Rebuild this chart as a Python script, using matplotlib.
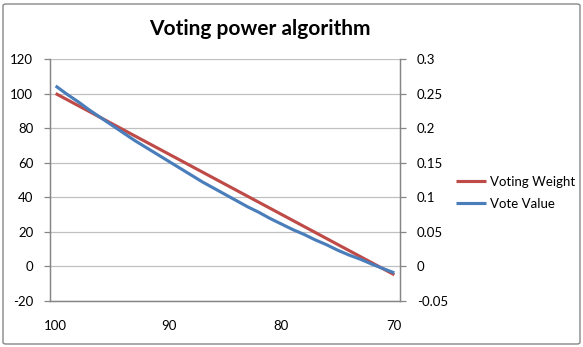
import matplotlib
matplotlib.use("Agg")
import matplotlib.pyplot as plt
from matplotlib.patches import FancyBboxPatch

# ---- data ----
categories = list(range(100, 69, -1))  # 100 .. 70
voting_weight = [100, 96.5, 93, 89.5, 86, 82.5, 79, 75.5, 72, 68.5, 65,
                 61.5, 58, 54.5, 51, 47.5, 44, 40.5, 37, 33.5, 30,
                 26.5, 23, 19.5, 16, 12.5, 9, 5.5, 2, -1.5, -5]
vote_value = [0.261, 0.249, 0.238, 0.226, 0.215, 0.204, 0.193, 0.182, 0.172, 0.162, 0.152,
              0.142, 0.132, 0.122, 0.113, 0.104, 0.095, 0.086, 0.078, 0.069, 0.061,
              0.053, 0.046, 0.038, 0.031, 0.023, 0.016, 0.010, 0.003, -0.0035, -0.0097]
left_ticks = [-20, 0, 20, 40, 60, 80, 100, 120]
right_ticks = [-0.05, 0, 0.05, 0.1, 0.15, 0.2, 0.25, 0.3]
right_tick_labels = ["-0.05", "0", "0.05", "0.1", "0.15", "0.2", "0.25", "0.3"]
x_tick_labels = ["100", "90", "80", "70"]
series_names = ["Voting Weight", "Vote Value"]
title = "Voting power algorithm"

RED = "#BE4B48"
BLUE = "#4A7EBB"
GRID = "#C0C0C0"
AXC = "#868686"
FONT = ["Lato", "DejaVu Sans"]
plt.rcParams['font.family'] = FONT

W, H = 583, 347
fig = plt.figure(figsize=(W / 100, H / 100), dpi=100)
ax = fig.add_axes([50 / W, 1 - 300.7 / H, 350 / W, (300.7 - 59) / H])
ax2 = ax.twinx()

pos = list(range(len(categories)))
l1, = ax.plot(pos, voting_weight, color=RED, lw=2.25, solid_capstyle='butt', zorder=3)
l2, = ax2.plot(pos, vote_value, color=BLUE, lw=2.25, solid_capstyle='butt', zorder=3)

ax.set_xlim(-0.5, len(categories) - 0.5)
ax.set_ylim(-20, 120)
ax2.set_ylim(-0.05, 0.3)
ax.set_yticks(left_ticks)
ax.set_yticklabels([str(t) for t in left_ticks])
ax2.set_yticks(right_ticks)
ax2.set_yticklabels(right_tick_labels)
xt = [categories.index(int(s)) for s in x_tick_labels]
ax.set_xticks(xt)
ax.set_xticklabels(x_tick_labels)

ax.grid(axis='y', color=GRID, lw=0.9)
ax.set_axisbelow(True)
for a in (ax, ax2):
    for s in ('top',):
        a.spines[s].set_visible(False)
    for s in ('left', 'right', 'bottom'):
        a.spines[s].set_color(AXC)
        a.spines[s].set_linewidth(0.9)
ax.tick_params(axis='y', direction='out', length=4, width=0.9, color=AXC,
               labelsize=9.5, pad=8, labelcolor='#000000')
ax2.tick_params(axis='y', direction='out', length=4, width=0.9, color=AXC,
                labelsize=9.5, pad=8, labelcolor='#000000')
ax.tick_params(axis='x', length=0, labelsize=9.5, pad=14, labelcolor='#000000')

fig.text(260 / W, 1 - 29 / H, title, ha='center', va='center',
         fontsize=15, fontweight='bold', color='#000000')

fig.legend([l1, l2], series_names, loc='center left',
           bbox_to_anchor=(456 / W, 1 - 193 / H), frameon=False,
           fontsize=9.5, handlelength=2.3, handletextpad=0.3,
           labelspacing=0.75, borderpad=0, borderaxespad=0)

border = FancyBboxPatch((3 / W, 3 / H), (W - 6) / W, (H - 7) / H,
                        boxstyle="round,pad=0,rounding_size=0.005",
                        transform=fig.transFigure, fill=False,
                        edgecolor='#878787', lw=1.0)
fig.patches.append(border)

fig.savefig("out.png", dpi=100, facecolor='white')
